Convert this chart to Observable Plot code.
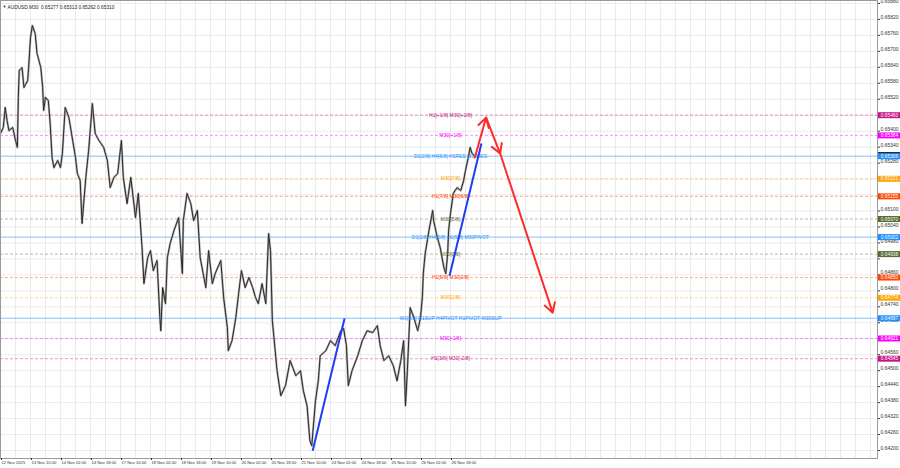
<!DOCTYPE html>
<html><head><meta charset="utf-8">
<script src="https://cdn.jsdelivr.net/npm/d3@7"></script>
<script src="https://cdn.jsdelivr.net/npm/@observablehq/plot@0.6"></script>
<style>
body{margin:0;background:#fff;overflow:hidden;}
#chart svg{display:block;}
</style>
</head><body><div id="chart"></div>
<script>
// ---------- data ----------
const symbolTitle = "AUDUSD,M30  0.65277 0.65313 0.65262 0.65310";
const lastClose = 0.65310;

// bar index (M30 bars from 12 Nov 2025 18:00) and price
const barIndex = [0,3,5,7,9,13,16,18,19,20,23,25,29,30,32,34,37,39,43,45,46,48,51,53,55,57,61,64,66,69,73,77,80,82,85,87,91,94,98,101,105,110,114,117,121,125,129,131,135,139,144,147,151,153,157,160,163,167,170,171,173,176,178,181,185,190,194,195,199,203,206,210,213,219,222,226,229,235,238,242,243,247,251,254,257,261,265,269,272,275,279,283,286,288,290,293,295,299,304,309,315,320,323,327,330,332,336,339,341,347,352,357,363,366,369,371,375,381,386,391,397,402,405,409,414,419,423,427,430,432,434,437,441,445,448,450,451,453,457,461,462,466,469,473,475,477,478,480,483,487,491,494,496,499,501,503,505];
const price = [0.65391,0.65414,0.65489,0.65440,0.65402,0.65414,0.65365,0.65339,0.65527,0.65628,0.65639,0.65564,0.65590,0.65639,0.65752,0.65797,0.65767,0.65692,0.65639,0.65564,0.65478,0.65527,0.65515,0.65429,0.65301,0.65263,0.65290,0.65263,0.65316,0.65489,0.65451,0.65365,0.65301,0.65241,0.65214,0.65053,0.65226,0.65327,0.65504,0.65391,0.65365,0.65339,0.65290,0.65188,0.65226,0.65241,0.65365,0.65226,0.65128,0.65226,0.65075,0.65166,0.64963,0.64827,0.64925,0.64951,0.64876,0.64914,0.64699,0.64650,0.64812,0.64752,0.64925,0.64978,0.65026,0.65075,0.64865,0.65064,0.65166,0.65128,0.65064,0.65102,0.64925,0.64812,0.64951,0.64827,0.64865,0.64914,0.64775,0.64662,0.64575,0.64613,0.64699,0.64790,0.64876,0.64812,0.64850,0.64812,0.64775,0.64752,0.64827,0.64752,0.65015,0.64951,0.64688,0.64575,0.64500,0.64406,0.64444,0.64538,0.64481,0.64500,0.64425,0.64368,0.64237,0.64218,0.64387,0.64462,0.64556,0.64575,0.64613,0.64594,0.64650,0.64658,0.64594,0.64444,0.64500,0.64556,0.64613,0.64650,0.64643,0.64669,0.64594,0.64538,0.64556,0.64519,0.64462,0.64538,0.64613,0.64368,0.64500,0.64737,0.64699,0.64650,0.64699,0.64775,0.64865,0.64940,0.65026,0.65102,0.65064,0.65000,0.64963,0.64887,0.64865,0.64940,0.65026,0.65090,0.65166,0.65188,0.65177,0.65214,0.65252,0.65301,0.65339,0.65316,0.65310];

const timeTickBars = [0,32,64,96,128,160,192,224,256,288,320,352,384,416,448,480];
const timeTickLabels = ["12 Nov 2025","13 Nov 10:00","14 Nov 02:00","14 Nov 18:00","17 Nov 10:00","18 Nov 02:00","18 Nov 18:00","19 Nov 10:00","20 Nov 02:00","20 Nov 18:00","21 Nov 10:00","24 Nov 02:00","24 Nov 18:00","25 Nov 10:00","26 Nov 02:00","26 Nov 18:00"];

// price scale ticks (grid) and the tick labels visible beside the level boxes
const priceTicks = [0.64200,0.64260,0.64320,0.64380,0.64440,0.64500,0.64560,0.64620,0.64680,0.64740,0.64800,0.64860,0.64920,0.64980,0.65040,0.65100,0.65160,0.65220,0.65280,0.65340,0.65400,0.65460,0.65520,0.65580,0.65640,0.65700,0.65760,0.65820,0.65880];
const hiddenTickLabels = [0.64620,0.64920,0.65160,0.65220,0.65460];

const levelPrices = [0.65460,0.65384,0.65306,0.65221,0.65155,0.65070,0.65002,0.64938,0.64850,0.64774,0.64697,0.64621,0.64545];
const levelLabels = ["H1[+1/8] M30[+2/8]","M30[+1/8]","D1[2/8] H4[6/8] H1RES M30RES","M30[7/8]","H1[7/8] M30[6/8]","M30[5/8]","D1[1/8] H4[5/8] H1[5/8] M30PIVOT","M30[3/8]","H1[5/8] M30[2/8]","M30[1/8]","W1[2/8] D1SUP H4PIVOT H1PIVOT M30SUP","M30[-1/8]","H1[3/8] M30[-2/8]"];
const levelKinds = ["mvr","mag","blue","orange","ored","olive","blue","olive","ored","orange","blue","mag","mvr"];
const labelBar = 480;

// blue trend lines (bar, price)
const trendStartBars = [333,479];
const trendStartPrices = [0.64199,0.64857];
const trendEndBars = [367,513];
const trendEndPrices = [0.64696,0.65354];

// red forecast path
const forecastBars = [506,518,533,589];
const forecastPrices = [0.65301,0.65451,0.65316,0.64718];

// ---------- styles ----------
const kindColor = {mvr:"#c71585", mag:"#ff00ff", blue:"#1e90ff", orange:"#ffa500", ored:"#ff4500", olive:"#556b2f"};
const FONT = "'Liberation Sans', Arial, sans-serif";

const series = barIndex.map((b,i)=>({b, p: price[i]}));
const levels = levelPrices.map((p,i)=>({p, label: levelLabels[i], kind: levelKinds[i]}));
const trends = trendStartBars.map((b,i)=>({x1:b, y1:trendStartPrices[i], x2:trendEndBars[i], y2:trendEndPrices[i]}));
const fsegs = forecastBars.slice(0,-1).map((b,i)=>({x1:b, y1:forecastPrices[i], x2:forecastBars[i+1], y2:forecastPrices[i+1], dashed: i<2}));
const labelTicks = priceTicks.filter(t => !hiddenTickLabels.includes(t));

const chart = Plot.plot({
  width: 900, height: 468,
  marginLeft: 0, marginRight: 23, marginTop: 0, marginBottom: 10,
  style: {fontFamily: FONT, fontSize: "5px", background: "#fff", color: "#333"},
  x: {type:"linear", domain:[0, 935.5]},
  y: {type:"linear", domain:[0.64170, 0.65891]},
  marks: [
    Plot.ruleX(d3.range(0, 936, 16), {stroke:"#e6e6e6", strokeWidth:0.8}),
    Plot.ruleY(priceTicks, {stroke:"#e6e6e6", strokeWidth:0.8}),
    Plot.ruleY(levels.filter(d=>d.kind==="blue"), {y:"p", stroke:"#1e90ff", strokeOpacity:0.55, strokeWidth:1}),
    Plot.ruleY(levels.filter(d=>d.kind!=="blue"), {y:"p", stroke:d=>kindColor[d.kind], strokeOpacity:0.55, strokeWidth:0.8, strokeDasharray:"3,2"}),
    Plot.line(series, {x:"b", y:"p", stroke:"#b0b0b0", strokeWidth:2.2, strokeLinejoin:"round"}),
    Plot.line(series, {x:"b", y:"p", stroke:"#2a2a2a", strokeWidth:1, strokeLinejoin:"round"}),
    Plot.text(levels, {x:()=>labelBar, y:"p", text:"label", fill:d=>kindColor[d.kind], fontSize:5, textAnchor:"middle"}),
    Plot.link(trends, {x1:"x1", y1:"y1", x2:"x2", y2:"y2", stroke:"#1f3cf5", strokeWidth:2}),
    Plot.arrow(fsegs, {x1:"x1", y1:"y1", x2:"x2", y2:"y2", stroke:"#ff2a2a", strokeWidth:2, headLength:8, strokeDasharray:d=>d.dashed?"4,3":null}),
    Plot.frame({stroke:"#9a9a9a", strokeWidth:1}),
    Plot.axisY({anchor:"right", ticks:priceTicks, tickFormat:()=>"", tickSize:2, label:null}),
    Plot.axisY({anchor:"right", ticks:labelTicks, tickFormat:d3.format(".5f"), tickSize:0, tickPadding:3, dy:-2, fontSize:5, label:null}),
    Plot.axisX({ticks:timeTickBars, tickFormat:(d,i)=>timeTickLabels[i], tickSize:2, tickPadding:1, textAnchor:"start", dx:1, fontSize:4.2, label:null}),
    Plot.tickY([lastClose], {stroke:"#111", strokeWidth:6, insetLeft:878, insetRight:-23}),
    Plot.tickY(levels, {y:"p", stroke:d=>kindColor[d.kind], strokeWidth:6, insetLeft:878, insetRight:-23}),
    Plot.text(levels, {y:"p", text:d=>d.p.toFixed(5), frameAnchor:"right", dx:12, fill:"#fff", fontSize:4.8, textAnchor:"middle"}),
    Plot.text([symbolTitle], {frameAnchor:"top-left", dx:7, dy:5, fontSize:4.8, textAnchor:"start", fill:"#222"}),
    Plot.text(["▼"], {frameAnchor:"top-left", dx:2, dy:5, fontSize:4, textAnchor:"start", fill:"#222"})
  ]
});
document.getElementById("chart").append(chart);
</script>
</body></html>
